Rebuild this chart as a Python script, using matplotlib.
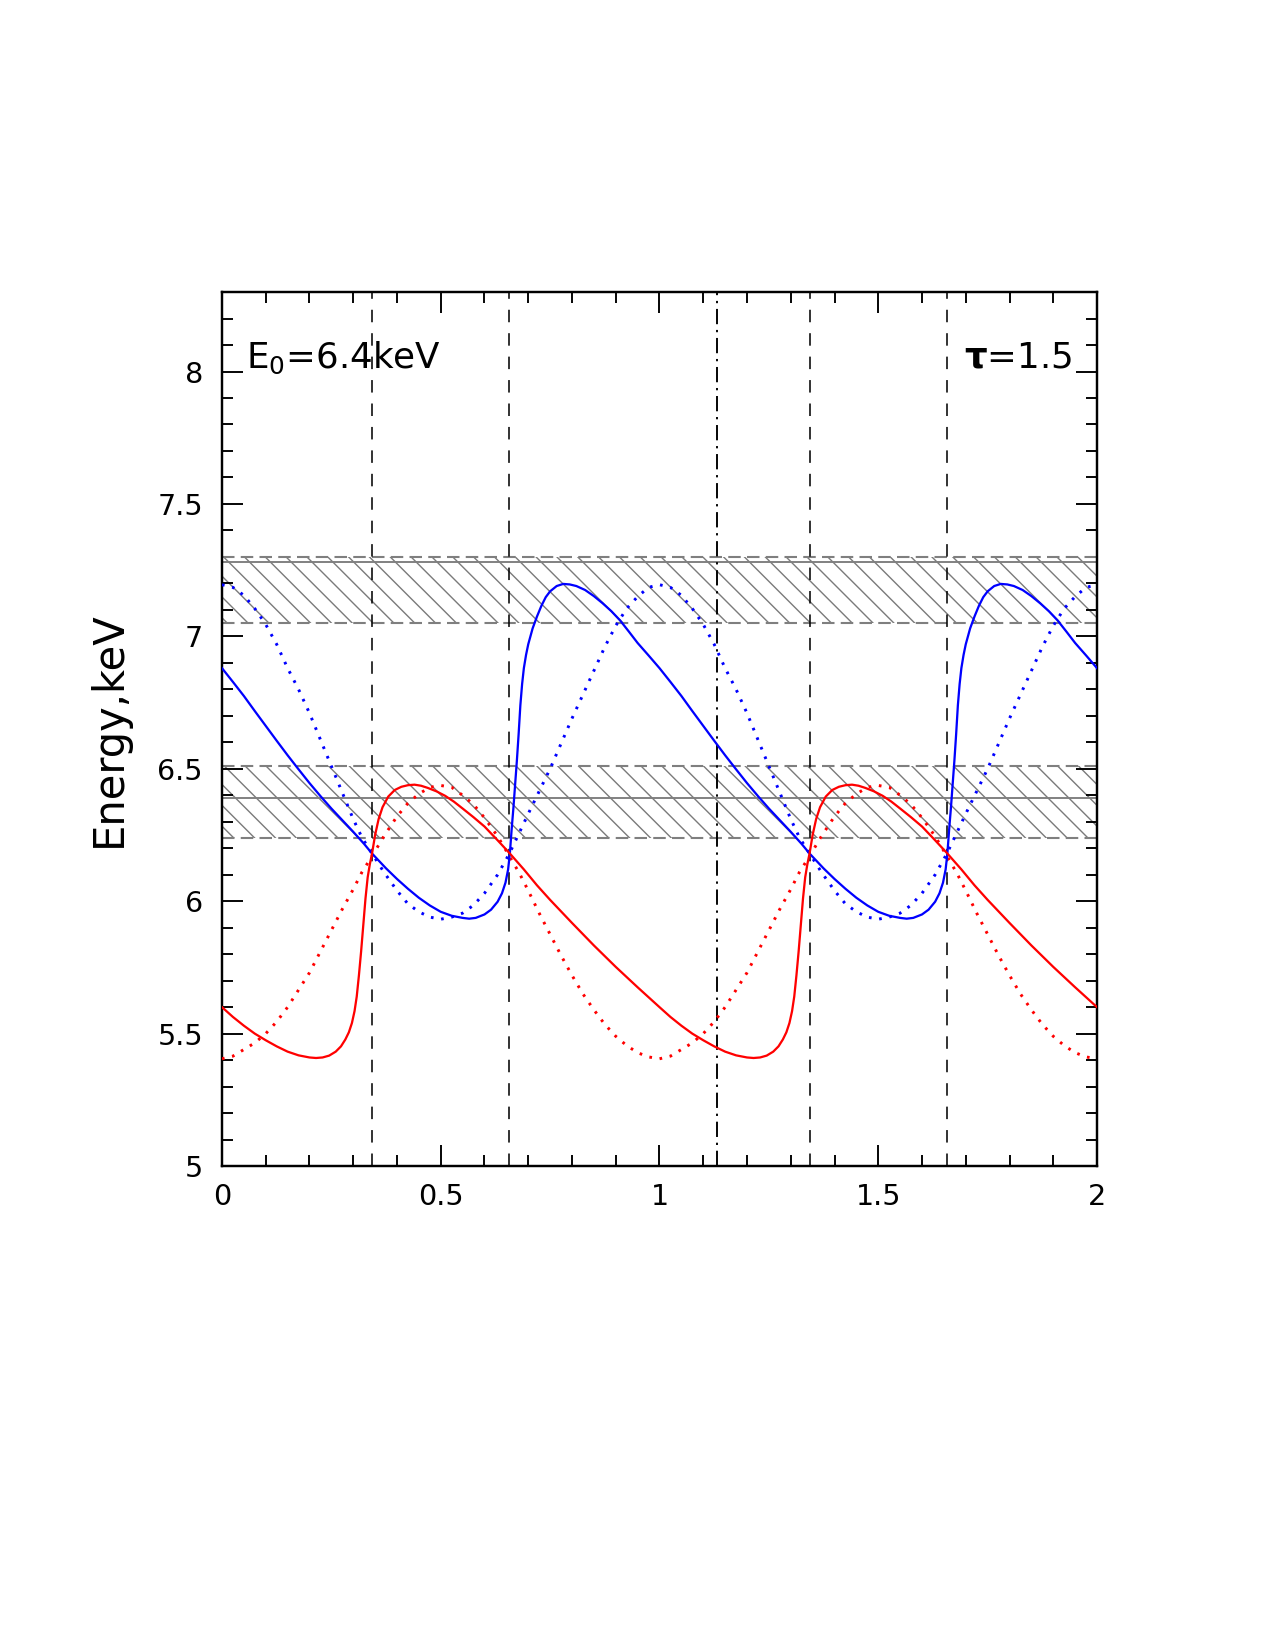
"""Line energy vs. phase with hatched bands (two cycles shown)."""
import numpy as np
import matplotlib
matplotlib.use('Agg')
import matplotlib.pyplot as plt
from matplotlib.ticker import MultipleLocator, FixedLocator, FixedFormatter

# one cycle of each curve (phase 0..1)
phase_blue_solid = [0.000, 0.025, 0.050, 0.075, 0.100, 0.125, 0.150, 0.175, 0.200, 0.225,
                    0.250, 0.275, 0.300, 0.325, 0.343, 0.375, 0.400, 0.425, 0.450, 0.475,
                    0.500, 0.525, 0.550, 0.565, 0.580, 0.600, 0.615, 0.630, 0.640, 0.648,
                    0.654, 0.658, 0.662, 0.666, 0.670, 0.674, 0.678, 0.682, 0.686, 0.690,
                    0.695, 0.700, 0.710, 0.720, 0.730, 0.740, 0.750, 0.765, 0.780, 0.795,
                    0.810, 0.830, 0.850, 0.870, 0.890, 0.910, 0.930, 0.950, 0.975, 1.000]
energy_blue_solid = [6.880, 6.828, 6.775, 6.718, 6.662, 6.606, 6.551, 6.498, 6.446, 6.397,
                     6.350, 6.306, 6.262, 6.216, 6.180, 6.124, 6.084, 6.047, 6.013, 5.984,
                     5.960, 5.945, 5.937, 5.934, 5.937, 5.950, 5.968, 5.998, 6.030, 6.070,
                     6.120, 6.180, 6.270, 6.350, 6.440, 6.530, 6.630, 6.740, 6.820, 6.880,
                     6.930, 6.970, 7.030, 7.075, 7.115, 7.148, 7.170, 7.190, 7.198, 7.196,
                     7.190, 7.175, 7.152, 7.125, 7.095, 7.060, 7.018, 6.975, 6.928, 6.880]

phase_blue_dot = [0.000, 0.025, 0.050, 0.075, 0.100, 0.125, 0.150, 0.175, 0.200, 0.225,
                  0.250, 0.275, 0.300, 0.320, 0.343, 0.370, 0.400, 0.425, 0.450, 0.475,
                  0.500, 0.525, 0.550, 0.575, 0.600, 0.630, 0.657, 0.680, 0.700, 0.725,
                  0.750, 0.775, 0.800, 0.825, 0.850, 0.875, 0.900, 0.925, 0.950, 0.975,
                  1.000]
energy_blue_dot = [7.195, 7.185, 7.155, 7.105, 7.045, 6.970, 6.880, 6.800, 6.710, 6.610,
                   6.510, 6.410, 6.310, 6.240, 6.180, 6.110, 6.040, 5.990, 5.960, 5.940,
                   5.932, 5.940, 5.955, 5.985, 6.030, 6.100, 6.180, 6.260, 6.330, 6.415,
                   6.500, 6.595, 6.690, 6.780, 6.870, 6.960, 7.040, 7.105, 7.150, 7.185,
                   7.195]

phase_red_solid = [0.000, 0.025, 0.050, 0.075, 0.100, 0.125, 0.150, 0.175, 0.200, 0.215,
                   0.230, 0.245, 0.260, 0.272, 0.282, 0.290, 0.297, 0.303, 0.308, 0.313,
                   0.318, 0.323, 0.328, 0.333, 0.338, 0.343, 0.350, 0.358, 0.367, 0.380,
                   0.395, 0.410, 0.425, 0.440, 0.455, 0.470, 0.490, 0.510, 0.530, 0.550,
                   0.575, 0.600, 0.630, 0.658, 0.690, 0.720, 0.750, 0.800, 0.850, 0.900,
                   0.950, 1.000]
energy_red_solid = [5.600, 5.563, 5.530, 5.500, 5.475, 5.452, 5.432, 5.418, 5.410, 5.408,
                    5.410, 5.417, 5.432, 5.452, 5.478, 5.505, 5.540, 5.585, 5.640, 5.720,
                    5.810, 5.910, 6.010, 6.090, 6.140, 6.180, 6.250, 6.310, 6.355, 6.395,
                    6.420, 6.432, 6.438, 6.440, 6.436, 6.428, 6.415, 6.398, 6.376, 6.350,
                    6.317, 6.282, 6.230, 6.180, 6.120, 6.060, 6.005, 5.918, 5.833, 5.752,
                    5.675, 5.600]

phase_red_dot = [0.000, 0.025, 0.050, 0.075, 0.100, 0.125, 0.150, 0.175, 0.200, 0.225,
                 0.250, 0.275, 0.300, 0.320, 0.343, 0.370, 0.400, 0.425, 0.450, 0.475,
                 0.500, 0.525, 0.550, 0.575, 0.600, 0.630, 0.657, 0.680, 0.700, 0.725,
                 0.750, 0.775, 0.800, 0.825, 0.850, 0.875, 0.900, 0.925, 0.950, 0.975,
                 1.000]
energy_red_dot = [5.405, 5.415, 5.440, 5.465, 5.500, 5.545, 5.600, 5.665, 5.730, 5.810,
                  5.890, 5.970, 6.045, 6.110, 6.170, 6.245, 6.320, 6.370, 6.405, 6.430,
                  6.437, 6.430, 6.400, 6.365, 6.315, 6.245, 6.170, 6.105, 6.040, 5.955,
                  5.875, 5.795, 5.720, 5.650, 5.590, 5.535, 5.490, 5.455, 5.428, 5.412,
                  5.405]

# hatched bands: (low, high, centre line)
bands = [(7.05, 7.30, 7.28), (6.24, 6.51, 6.39)]
dashed_phases = [0.343, 0.657, 1.343, 1.657]
dashdot_phase = 1.132

x_ticks = [0, 0.5, 1, 1.5, 2]
x_ticklabels = ['0', '0.5', '1', '1.5', '2']
y_ticks = [5, 5.5, 6, 6.5, 7, 7.5, 8]
y_ticklabels = ['5', '5.5', '6', '6.5', '7', '7.5', '8']


def two_cycles(ph, en):
    ph = np.asarray(ph)
    en = np.asarray(en)
    return np.concatenate([ph[:-1], ph + 1]), np.concatenate([en[:-1], en])


plt.rcParams['font.family'] = ['DejaVu Sans']
plt.rcParams['mathtext.fontset'] = 'dejavusans'
plt.rcParams['hatch.linewidth'] = 0.8
plt.rcParams['hatch.color'] = '#7a7a7a'

fig = plt.figure(figsize=(10.2, 13.2), dpi=125)
ax = fig.add_axes([0.1741, 0.2933, 0.6863, 0.5297])

gray = '#7f7f7f'
for lo, hi, mid in bands:
    ax.fill_between([0, 2], lo, hi, facecolor='none', edgecolor='#7a7a7a',
                    hatch='\\\\', linewidth=0, zorder=1)
    for yv in (lo, hi):
        ax.axhline(yv, color=gray, lw=1.2, ls=(0, (6, 3)), zorder=2)
    ax.axhline(mid, color=gray, lw=1.1, zorder=2)

for xv in dashed_phases:
    ax.axvline(xv, color='k', lw=0.9, ls=(0, (8, 7)), zorder=3)
ax.axvline(dashdot_phase, color='k', lw=1.1, ls=(0, (8, 3, 1.2, 3)), zorder=3)

x, y = two_cycles(phase_blue_dot, energy_blue_dot)
ax.plot(x, y, color='#0000ff', lw=1.7, ls=(0, (0.9, 2.6)), zorder=4)
x, y = two_cycles(phase_red_dot, energy_red_dot)
ax.plot(x, y, color='#ff0000', lw=1.7, ls=(0, (0.9, 2.6)), zorder=4)
x, y = two_cycles(phase_blue_solid, energy_blue_solid)
ax.plot(x, y, color='#0000ff', lw=1.3, zorder=5)
x, y = two_cycles(phase_red_solid, energy_red_solid)
ax.plot(x, y, color='#ff0000', lw=1.3, zorder=5)

ax.set_xlim(0, 2)
ax.set_ylim(5, 8.3)
ax.xaxis.set_major_locator(FixedLocator(x_ticks))
ax.xaxis.set_major_formatter(FixedFormatter(x_ticklabels))
ax.yaxis.set_major_locator(FixedLocator(y_ticks))
ax.yaxis.set_major_formatter(FixedFormatter(y_ticklabels))
ax.xaxis.set_minor_locator(MultipleLocator(0.1))
ax.yaxis.set_minor_locator(MultipleLocator(0.1))
ax.tick_params(which='both', direction='in', top=True, right=True, width=1.1,
               labelsize=16.5)
ax.tick_params(which='major', length=12)
ax.tick_params(which='minor', length=6.3)
ax.tick_params(axis='x', pad=10)
ax.tick_params(axis='y', pad=11)
for sp in ax.spines.values():
    sp.set_linewidth(1.4)

ax.set_ylabel('Energy,keV', fontsize=24)
ax.yaxis.set_label_coords(-0.105, 0.5)

ax.text(0.055, 8.015, r'E$_0$=6.4keV', fontsize=20.5, va='baseline', zorder=6)
ax.text(1.943, 8.015, r'$\mathbf{\tau}$=1.5', fontsize=20.5, va='baseline',
        ha='right', zorder=6)

fig.savefig('out.png', dpi=125)
